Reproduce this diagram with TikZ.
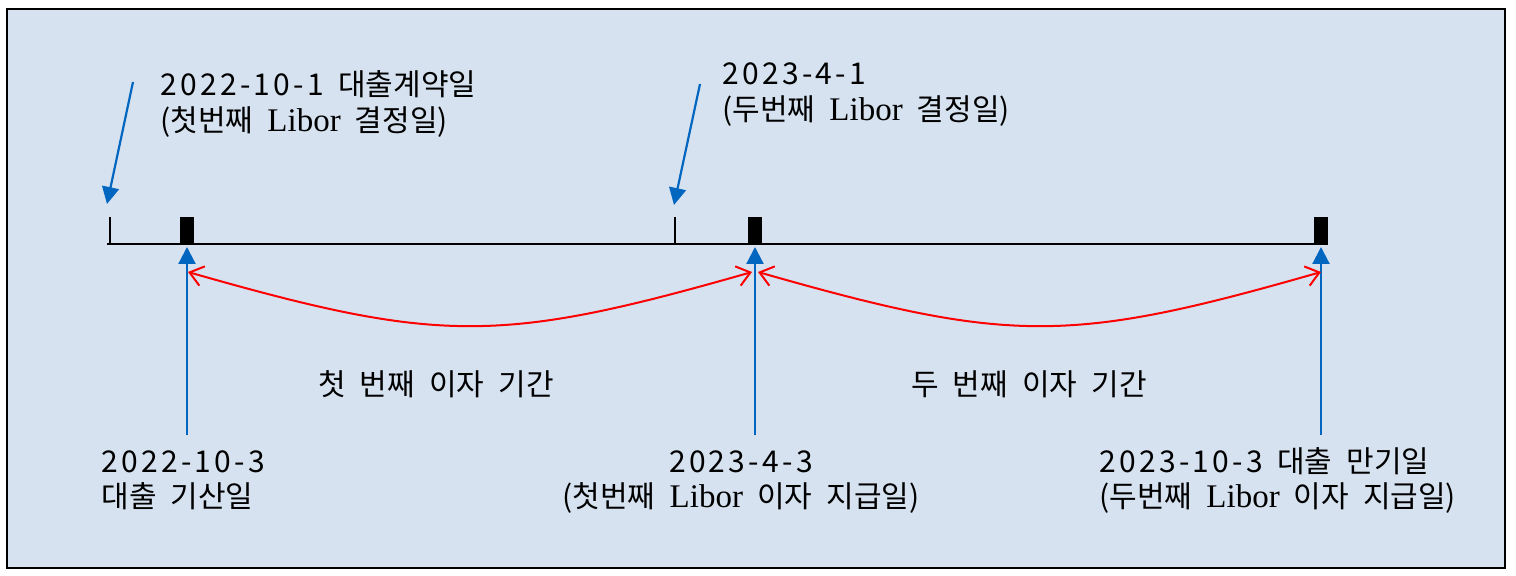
\documentclass[tikz,border=0pt]{standalone}
\usepackage{fontspec}
\setmainfont[WordSpace=2.1]{Noto Sans CJK KR}
\newfontfamily\dgfont[LetterSpace=11,WordSpace=2.1]{Noto Sans CJK KR}
\newfontfamily\latinserif{Liberation Serif}
\usetikzlibrary{arrows.meta}
\definecolor{bgblue}{HTML}{D6E2F0}
\definecolor{arrowblue}{HTML}{0066C0}
\newcommand{\Lib}{{\latinserif\fontsize{16.5pt}{18pt}\selectfont Libor}}
\newcommand{\dg}[1]{{\dgfont #1}}
\tikzset{
  lbl/.style={inner sep=0pt, font=\fontsize{15pt}{18pt}\selectfont},
  axisline/.style={line width=1.1pt, black},
  tickmark/.style={line width=1pt, black},
  payrect/.style={fill=black, draw=none},
  bluearrow/.style={line width=1.1pt, arrowblue, -{Triangle[length=8.5pt,width=8.5pt]}},
  redarrow/.style={line width=1pt, red, {Straight Barb[length=6.5pt,width=10pt]}-{Straight Barb[length=6.5pt,width=10pt]}},
}
\begin{document}
\begin{tikzpicture}[x=0.5pt,y=-0.5pt]
\useasboundingbox (0,0) rectangle (1516,576);
\draw[fill=bgblue, line width=1.25pt] (7,9) rectangle (1505,568);
% axis
\coordinate (axL) at (107,244);
\coordinate (axR) at (1328,244);
\draw[axisline] (axL) -- (axR);
% small ticks
\coordinate (t1b) at (110,244); \coordinate (t1t) at (110,217);
\coordinate (t2b) at (675,244); \coordinate (t2t) at (675,217);
\draw[tickmark] (t1b) -- (t1t);
\draw[tickmark] (t2b) -- (t2t);
% payment rectangles
\node[payrect, minimum width=7pt, minimum height=13.5pt, inner sep=0pt, anchor=south] (p1) at (187,244) {};
\node[payrect, minimum width=7pt, minimum height=13.5pt, inner sep=0pt, anchor=south] (p2) at (755,244) {};
\node[payrect, minimum width=7pt, minimum height=13.5pt, inner sep=0pt, anchor=south] (p3) at (1321,244) {};
% blue vertical arrows
\coordinate (b1) at (187,435); \coordinate (a1) at (187,247);
\coordinate (b2) at (755,435); \coordinate (a2) at (755,247);
\coordinate (b3) at (1321,435); \coordinate (a3) at (1321,247);
\draw[bluearrow] (b1) -- (a1);
\draw[bluearrow] (b2) -- (a2);
\draw[bluearrow] (b3) -- (a3);
% diagonal blue arrows
\coordinate (d1s) at (133,82); \coordinate (d1e) at (107,204);
\coordinate (d2s) at (700,84); \coordinate (d2e) at (674,205);
\draw[bluearrow] (d1s) -- (d1e);
\draw[bluearrow] (d2s) -- (d2e);
% red curves
\coordinate (r1s) at (188,272); \coordinate (r1e) at (752,272);
\coordinate (r2s) at (758,272); \coordinate (r2e) at (1321,272);
\draw[redarrow] (r1s) .. controls (440,344) and (500,344) .. (r1e);
\draw[redarrow] (r2s) .. controls (1010,344) and (1070,344) .. (r2e);
% top labels
\node[lbl, anchor=base west] (l1a) at (160,96) {\dg{2022-10-1} 대출계약일};
\node[lbl, anchor=base west] (l1b) at (160,132) {\dg{(}첫번째 \Lib{} 결정일\dg{)}};
\node[lbl, anchor=base west] (l2a) at (722,85) {\dg{2023-4-1}};
\node[lbl, anchor=base west] (l2b) at (722,121) {\dg{(}두번째 \Lib{} 결정일\dg{)}};
% period labels
\node[lbl, anchor=base] (per1) at (436,396) {첫 번째 이자 기간};
\node[lbl, anchor=base] (per2) at (1029,396) {두 번째 이자 기간};
% bottom labels
\node[lbl, anchor=base west] (d1a) at (101,473) {\dg{2022-10-3}};
\node[lbl, anchor=base west] (d1b) at (101,508) {대출 기산일};
\node[lbl, anchor=base] (d2a) at (741,473) {\dg{2023-4-3}};
\node[lbl, anchor=base] (d2b) at (741,508) {\dg{(}첫번째 \Lib{} 이자 지급일\dg{)}};
\node[lbl, anchor=base west] (d3a) at (1099,473) {\dg{2023-10-3} 대출 만기일};
\node[lbl, anchor=base west] (d3b) at (1099,508) {\dg{(}두번째 \Lib{} 이자 지급일\dg{)}};
\end{tikzpicture}
\end{document}
